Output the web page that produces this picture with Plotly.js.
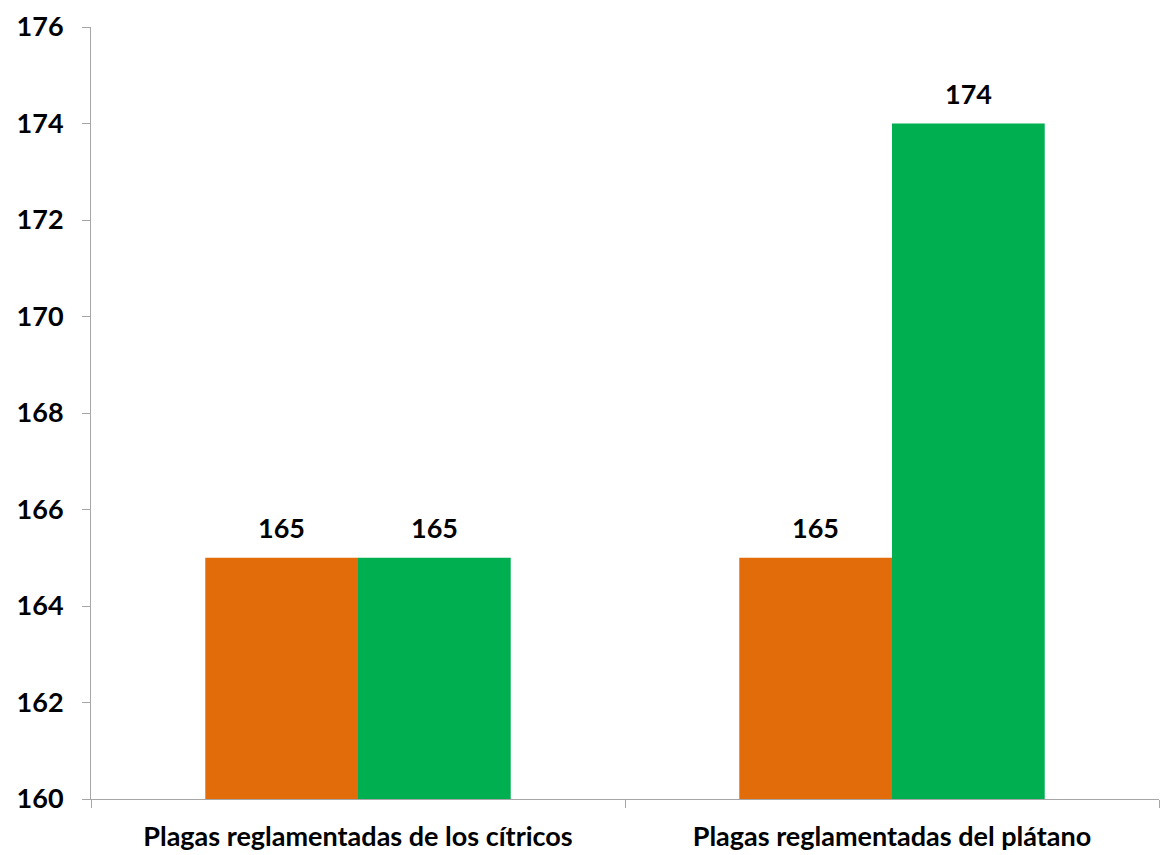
<!DOCTYPE html>
<html>
<head>
<meta charset="utf-8">
<script src="https://cdn.plot.ly/plotly-3.0.1.min.js"></script>
<style>html,body{margin:0;padding:0;background:#fff;}#chart{width:1160px;height:855px;}</style>
</head>
<body>
<div id="chart"></div>
<script>
var categories = ["Plagas reglamentadas de los cítricos", "Plagas reglamentadas del plátano"];
var seriesA = [165, 165];
var seriesB = [165, 174];
var colorA = "#E36C0A";
var colorB = "#00B050";
var yTicks = [160, 162, 164, 166, 168, 170, 172, 174, 176];

var bargap = 0.428;
var fontFam = "Lato, 'Open Sans', sans-serif";
var fs = 27;

var traces = [
  {type: "bar", x: categories, y: seriesA, marker: {color: colorA}, base: 0, hoverinfo: "y"},
  {type: "bar", x: categories, y: seriesB, marker: {color: colorB}, base: 0, hoverinfo: "y"}
];

var off = (1 - bargap) / 4;
var annotations = [];
[seriesA, seriesB].forEach(function (s, si) {
  s.forEach(function (v, i) {
    annotations.push({
      x: i + (si === 0 ? -off : off), y: v, xref: "x", yref: "y",
      text: String(v), showarrow: false, yanchor: "bottom", yshift: 12,
      font: {family: fontFam, size: fs, color: "#000", weight: 700}
    });
  });
});

var layout = {
  width: 1160, height: 855,
  margin: {l: 91, r: 1, t: 27, b: 56},
  paper_bgcolor: "#fff", plot_bgcolor: "#fff",
  barmode: "group", bargap: bargap, bargroupgap: 0,
  showlegend: false,
  xaxis: {
    type: "category", tickson: "boundaries", ticks: "outside", ticklen: 8,
    tickcolor: "#a6a6a6", showline: true, linecolor: "#a6a6a6", linewidth: 1,
    showgrid: false, zeroline: false, ticklabelstandoff: 14,
    tickfont: {family: fontFam, size: fs, color: "#000", weight: 700}
  },
  yaxis: {
    range: [160, 176], tickvals: yTicks, ticktext: yTicks.map(String),
    ticks: "outside", ticklen: 8, tickcolor: "#a6a6a6",
    showline: true, linecolor: "#a6a6a6", linewidth: 1,
    showgrid: false, zeroline: false, ticklabelstandoff: 13,
    tickfont: {family: fontFam, size: fs, color: "#000", weight: 700}
  },
  annotations: annotations
};

Plotly.newPlot("chart", traces, layout, {displayModeBar: false, staticPlot: true});
</script>
</body>
</html>
